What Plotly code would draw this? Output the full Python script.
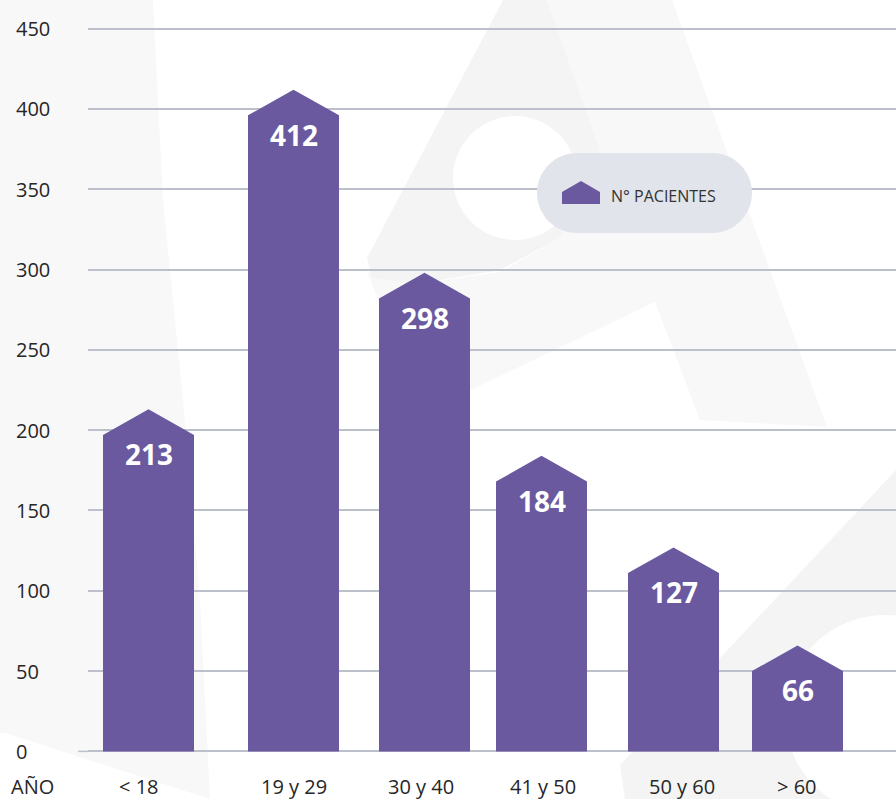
import plotly.graph_objects as go

# ---------------- data ----------------
categories = ["< 18", "19 y 29", "30 y 40", "41 y 50", "50 y 60", "> 60"]
pacientes = [213, 412, 298, 184, 127, 66]
y_ticks = [0, 50, 100, 150, 200, 250, 300, 350, 400, 450]
series_name = "N° PACIENTES"
axis_title = "AÑO"

# ---------------- layout constants ----------------
W, H = 896, 799
L, R, T, B = 88, 0, 27, 46
bar_centers = [148.5, 293.5, 424.5, 541.5, 673.5, 797.5]
label_centers = [139, 294, 421, 543, 682, 797]
BAR_W = 91
ROOF = 16
PURPLE = "#6a599e"
GRID = "#bcc0ca"
TEXT = "#262626"
FONT = "Open Sans"


def px(x):
    return (x - L) / (W - L - R)


def py(y):
    return (H - B - y) / (H - T - B)


def poly_path(points):
    return "M " + " L ".join(f"{px(x):.5f},{py(y):.5f}" for x, y in points) + " Z"


def rrect_path(x0, y0, x1, y1, r):
    k = 0.5523 * r

    def p(x, y):
        return f"{px(x):.5f},{py(y):.5f}"
    return (
        f"M {p(x0 + r, y0)} L {p(x1 - r, y0)} "
        f"C {p(x1 - r + k, y0)} {p(x1, y0 + r - k)} {p(x1, y0 + r)} "
        f"L {p(x1, y1 - r)} "
        f"C {p(x1, y1 - r + k)} {p(x1 - r + k, y1)} {p(x1 - r, y1)} "
        f"L {p(x0 + r, y1)} "
        f"C {p(x0 + r - k, y1)} {p(x0, y1 - r + k)} {p(x0, y1 - r)} "
        f"L {p(x0, y0 + r)} "
        f"C {p(x0, y0 + r - k)} {p(x0 + r - k, y0)} {p(x0 + r, y0)} Z"
    )


fig = go.Figure()

# house-shaped bars built from the values
for i, (cat, v) in enumerate(zip(categories, pacientes)):
    c = bar_centers[i]
    xl, xr = c - BAR_W / 2, c + BAR_W / 2
    fig.add_trace(go.Scatter(
        x=[xl, xl, c, xr, xr, xl],
        y=[0, v - ROOF, v, v - ROOF, 0, 0],
        mode="lines", fill="toself", fillcolor=PURPLE,
        line=dict(width=0, color=PURPLE),
        name=series_name, showlegend=False, hoverinfo="text",
        text=f"{cat}: {v}",
    ))

annotations = []
# value labels
for i, v in enumerate(pacientes):
    annotations.append(dict(
        x=bar_centers[i], y=v, xref="x", yref="y", text=f"<b>{v}</b>",
        showarrow=False, yshift=-45, yanchor="middle", xanchor="center",
        font=dict(family=FONT, size=28, color="white"),
    ))
# y tick labels (left aligned)
for t in y_ticks:
    annotations.append(dict(
        x=px(14), y=t, xref="paper", yref="y", text=str(t), showarrow=False,
        xanchor="left", yanchor="middle",
        font=dict(family=FONT, size=20, color=TEXT),
    ))
# category labels
for i, cat in enumerate(categories):
    annotations.append(dict(
        x=label_centers[i], y=0, xref="x", yref="paper", text=cat,
        showarrow=False, yshift=-33, xanchor="center", yanchor="middle",
        font=dict(family=FONT, size=20, color=TEXT),
    ))
annotations.append(dict(
    x=px(9), y=0, xref="paper", yref="paper", text=axis_title,
    showarrow=False, yshift=-33, xanchor="left", yanchor="middle",
    font=dict(family=FONT, size=20, color=TEXT),
))
# legend text
annotations.append(dict(
    x=px(609), y=py(196), xref="paper", yref="paper", text=series_name,
    showarrow=False, xanchor="left", yanchor="middle",
    font=dict(family=FONT, size=16, color="#333333"),
))

shapes = []
WM1 = "#f8f8f8"
WM2 = "#f4f4f4"
# faint watermark logo
shapes.append(dict(type="path", xref="paper", yref="paper", layer="below",
                   path=poly_path([(0, 0), (153, 0), (163, 200), (183, 400), (200, 600),
                                   (210, 799), (5, 733), (0, 733)]),
                   fillcolor=WM1, line=dict(width=0)))
shapes.append(dict(type="path", xref="paper", yref="paper", layer="below",
                   path=poly_path([(547, 0), (672, 0), (827, 427), (700, 420), (655, 302),
                                   (560, 238), (600, 150)]),
                   fillcolor=WM1, line=dict(width=0)))
shapes.append(dict(type="path", xref="paper", yref="paper", layer="below",
                   path=poly_path([(367, 272), (417, 284), (500, 272), (560, 238), (655, 302),
                                   (450, 400), (420, 395), (390, 330)]),
                   fillcolor=WM1, line=dict(width=0)))
shapes.append(dict(type="path", xref="paper", yref="paper", layer="below",
                   path=poly_path([(503, 0), (547, 0), (600, 150), (560, 238), (500, 270),
                                   (417, 284), (372, 278), (367, 258)]),
                   fillcolor=WM2, line=dict(width=0)))
shapes.append(dict(type="circle", xref="paper", yref="paper", layer="below",
                   x0=px(453), x1=px(577), y0=py(240), y1=py(116),
                   fillcolor="white", line=dict(width=0)))
shapes.append(dict(type="path", xref="paper", yref="paper", layer="below",
                   path=poly_path([(896, 470), (620, 765), (625, 799), (896, 799)]),
                   fillcolor=WM2, line=dict(width=0)))
shapes.append(dict(type="circle", xref="paper", yref="paper", layer="below",
                   x0=px(785), x1=px(985), y0=py(815), y1=py(615),
                   fillcolor="white", line=dict(width=0)))
# zero line extension
shapes.append(dict(type="line", xref="paper", yref="y", x0=px(78), x1=0, y0=0, y1=0,
                   line=dict(color=GRID, width=1.5), layer="below"))
# legend pill
shapes.append(dict(type="path", xref="paper", yref="paper", layer="above",
                   path=rrect_path(537, 153, 752, 233, 40),
                   fillcolor="#e1e4ea", line=dict(width=0)))
shapes.append(dict(type="path", xref="paper", yref="paper", layer="above",
                   path=poly_path([(562, 204), (562, 192), (581, 181), (600, 192), (600, 204)]),
                   fillcolor=PURPLE, line=dict(width=0)))

fig.update_layout(
    width=W, height=H,
    margin=dict(l=L, r=R, t=T, b=B, pad=0),
    paper_bgcolor="white", plot_bgcolor="rgba(0,0,0,0)",
    showlegend=False,
    xaxis=dict(range=[L, W - R], showgrid=False, zeroline=False, showticklabels=False,
               showline=False, fixedrange=True),
    yaxis=dict(range=[-1, 451], tickvals=y_ticks, showticklabels=False, showgrid=True,
               gridcolor=GRID, gridwidth=1.5, zeroline=False, showline=False,
               fixedrange=True),
    annotations=annotations,
    shapes=shapes,
    font=dict(family=FONT),
)

fig.write_html(
    "out.html",
    config={"displayModeBar": False},
    post_script="document.body.style.margin='0';document.body.style.overflow='hidden';",
)
